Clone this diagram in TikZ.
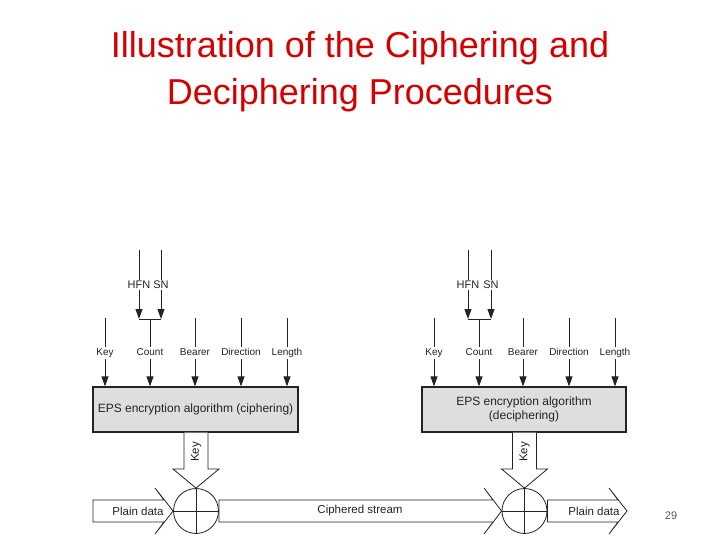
\documentclass[tikz,border=0pt]{standalone}
\usepackage{fontspec}
\setmainfont{Liberation Sans}
\usetikzlibrary{arrows.meta}
\definecolor{titlered}{RGB}{212,0,0}
\definecolor{boxgray}{RGB}{222,222,222}
\definecolor{ink}{RGB}{35,35,35}
\definecolor{pagenum}{RGB}{90,90,90}
\begin{document}
\begin{tikzpicture}[x=1pt,y=-1pt,
 lbl/.style={fill=white,inner sep=1pt,text height=7.5pt,text depth=2.2pt,font=\fontsize{10}{12}\selectfont,text=ink},
 toplbl/.style={fill=white,inner sep=0.5pt,text height=8pt,text depth=0.5pt,font=\fontsize{11}{13}\selectfont,text=ink},
 inarrow/.style={draw=ink,line width=0.9pt,-{Triangle[length=10pt,width=7pt]}},
 plainline/.style={draw=ink,line width=0.9pt},
 algbox/.style={draw=ink,line width=1.2pt,fill=boxgray,minimum width=205pt,minimum height=45pt,inner sep=0pt,align=center,font=\fontsize{12}{14}\selectfont,text=ink},
 fatarrow/.style={draw=ink,line width=0.8pt,fill=white,line join=miter},
 xorc/.style={circle,draw=ink,line width=0.8pt,minimum size=45pt,inner sep=0pt},
 flowlbl/.style={font=\fontsize{11.5}{13}\selectfont,text=ink,inner sep=0pt},
 titletxt/.style={font=\fontsize{36}{40}\selectfont,text=titlered,anchor=base,inner sep=0pt}]
\useasboundingbox (0,0) rectangle (720,540);

% title
\node[titletxt] (t1) at (360,58) {Illustration of the Ciphering and};
\node[titletxt] (t2) at (360,105) {Deciphering Procedures};

% algorithm boxes
\node[algbox] (encL) at (195.5,409.5) {EPS encryption algorithm (ciphering)};
\node[algbox,minimum width=204pt] (encR) at (524,409.5) {EPS encryption algorithm\\(deciphering)};

% input arrows (left and right)
\foreach \x/\t/\n/\b in {105/Key/kL/encL, 195/Bearer/bL/encL, 241/Direction/dL/encL, 287/Length/lL/encL,
                          434/Key/kR/encR, 523/Bearer/bR/encR, 569/Direction/dR/encR, 615/Length/lR/encR}{
  \coordinate (\n top) at (\x,318);
  \draw[inarrow] (\n top) -- (\n top |- \b.north);
  \node[lbl] (\n) at (\x,353) {\t};
}
% count arrows from HFN/SN junction
\foreach \x/\h/\s/\n/\b in {150/139/161/cL/encL, 479/468/491/cR/encR}{
  \coordinate (\n top) at (\x,319);
  \coordinate (\n hj) at (\h,319);
  \coordinate (\n sj) at (\s,319);
  \coordinate (\n ht) at (\h,250);
  \coordinate (\n st) at (\s,250);
  \draw[inarrow] (\n ht) -- (\n hj);
  \draw[inarrow] (\n st) -- (\n sj);
  \draw[plainline] (\n hj) -- (\n sj);
  \draw[inarrow] (\n top) -- (\n top |- \b.north);
  \node[lbl] (\n) at (\x,353) {Count};
  \node[toplbl] (\n hfn) at (\h,285) {HFN};
  \node[toplbl] (\n sn) at (\s,285) {SN};
}

% XOR circles (positions)
\node[xorc,draw=none] (xL) at (196,511) {};
\node[xorc,draw=none] (xR) at (524.5,511) {};

% key fat arrows
\draw[fatarrow] (184,432.6) -- (184,469) -- (173,469) -- (xL.north) -- (219,469) -- (208,469) -- (208,432.6);
\node[flowlbl,rotate=90] (keyL) at (196,452) {Key};
\draw[fatarrow] (512.5,432.6) -- (512.5,469) -- (501.5,469) -- (xR.north) -- (547.5,469) -- (536.5,469) -- (536.5,432.6);
\node[flowlbl,rotate=90] (keyR) at (524.5,452) {Key};

% data fat arrows
\draw[fatarrow] (93,500) -- (164,500) -- (155,488) -- (xL.west) -- (155,534) -- (164,522) -- (93,522) -- cycle;
\node[flowlbl] (pdL) at (138,511) {Plain data};
\draw[fatarrow] (xL.east |- 0,500) -- (493,500) -- (484,488) -- (xR.west) -- (484,534) -- (493,522) -- (xL.east |- 0,522) -- cycle;
\node[flowlbl] (cs) at (360,511) {Ciphered stream};
\draw[fatarrow] (xR.east |- 0,500) -- (618,500) -- (609,488) -- (627,511) -- (609,534) -- (618,522) -- (xR.east |- 0,522) -- cycle;
\node[flowlbl] (pdR) at (594,511) {Plain data};

% XOR circles drawn on top
\foreach \c in {xL,xR}{
  \draw[draw=ink,line width=0.8pt,fill=white] (\c) circle[radius=22.5pt];
  \draw[plainline,line width=0.8pt] (\c.north) -- (\c.south);
  \draw[plainline,line width=0.8pt] (\c.west) -- (\c.east);
}

% page number
\node[font=\fontsize{11}{13}\selectfont,text=pagenum,inner sep=0pt] (pg) at (671,516) {29};
\end{tikzpicture}
\end{document}
